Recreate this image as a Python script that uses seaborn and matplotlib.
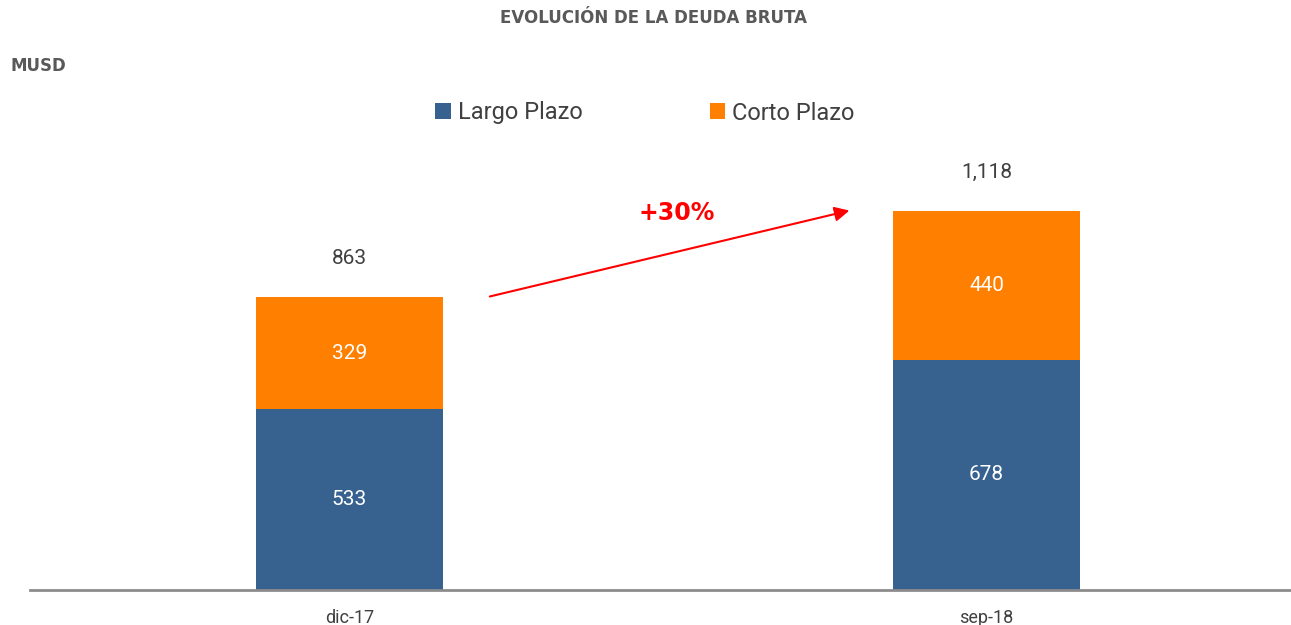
import matplotlib
matplotlib.use("Agg")
import matplotlib.pyplot as plt
import pandas as pd
import seaborn as sns

periods = ["dic-17", "sep-18"]
largo_plazo = [533, 678]
corto_plazo = [329, 440]
totals = [863, 1118]
total_labels = ["863", "1,118"]
growth_label = "+30%"

blue = "#37618F"
orange = "#FF8000"
text_dark = "#404040"
title_gray = "#595959"

sns.set_theme(style="white")
plt.rcParams["font.family"] = ["Roboto", "DejaVu Sans"]

df = pd.DataFrame({"period": periods, "largo": largo_plazo, "corto": corto_plazo})

fig = plt.figure(figsize=(12.91, 6.25), dpi=100)
ax = fig.add_axes([30 / 1291, 35 / 625, 1261 / 1291, 450 / 625])

# stacked bars: long term at the bottom, short term on top
sns.barplot(data=df, x="period", y="largo", color=blue, width=0.294,
            saturation=1, ax=ax, label="Largo Plazo", linewidth=0)
sns.barplot(data=df, x="period", y="corto", color=orange, width=0.294,
            saturation=1, ax=ax, bottom=df["largo"], label="Corto Plazo", linewidth=0)

for i in range(len(periods)):
    ax.text(i, largo_plazo[i] / 2, str(largo_plazo[i]), ha="center", va="center",
            color="white", fontsize=15)
    ax.text(i, largo_plazo[i] + corto_plazo[i] / 2, str(corto_plazo[i]), ha="center",
            va="center", color="white", fontsize=15)
    ax.annotate(total_labels[i], (i, totals[i]), xytext=(0, 21), textcoords="offset points",
                ha="center", va="bottom", color=text_dark, fontsize=15)

# growth arrow between the two totals
ax.annotate("", xy=(0.789, 1120), xytext=(0.216, 863),
            arrowprops=dict(arrowstyle="-|>", color="red", lw=1.5, mutation_scale=22))
ax.text(0.513, 1111, growth_label, ha="center", va="center", color="red",
        fontsize=17, fontweight="bold", family="DejaVu Sans")

ax.set_xlim(-0.5016, 1.478)
ax.set_ylim(0, 1326)
ax.set_xlabel("")
ax.set_ylabel("")
ax.set_yticks([])
ax.tick_params(axis="x", length=0, labelsize=13, labelcolor=text_dark, pad=14)
for s in ["top", "right", "left"]:
    ax.spines[s].set_visible(False)
ax.spines["bottom"].set_color("#8C8C8C")
ax.spines["bottom"].set_linewidth(2)

leg = ax.legend(loc="center", bbox_to_anchor=(645 / 1291, 1 - 113 / 625),
                bbox_transform=fig.transFigure, ncol=2, frameon=False,
                fontsize=17, handlelength=0.65, handleheight=0.65, handletextpad=0.3,
                columnspacing=5.4)
for t in leg.get_texts():
    t.set_color(text_dark)

fig.text(653 / 1291, 1 - 18 / 625, "EVOLUCIÓN DE LA DEUDA BRUTA", ha="center",
         va="center", fontsize=12, fontweight="bold", color=title_gray,
         family="DejaVu Sans")
fig.text(10 / 1291, 1 - 66 / 625, "MUSD", ha="left", va="center", fontsize=12,
         fontweight="bold", color=title_gray, family="DejaVu Sans")

fig.savefig("out.png", dpi=100)
